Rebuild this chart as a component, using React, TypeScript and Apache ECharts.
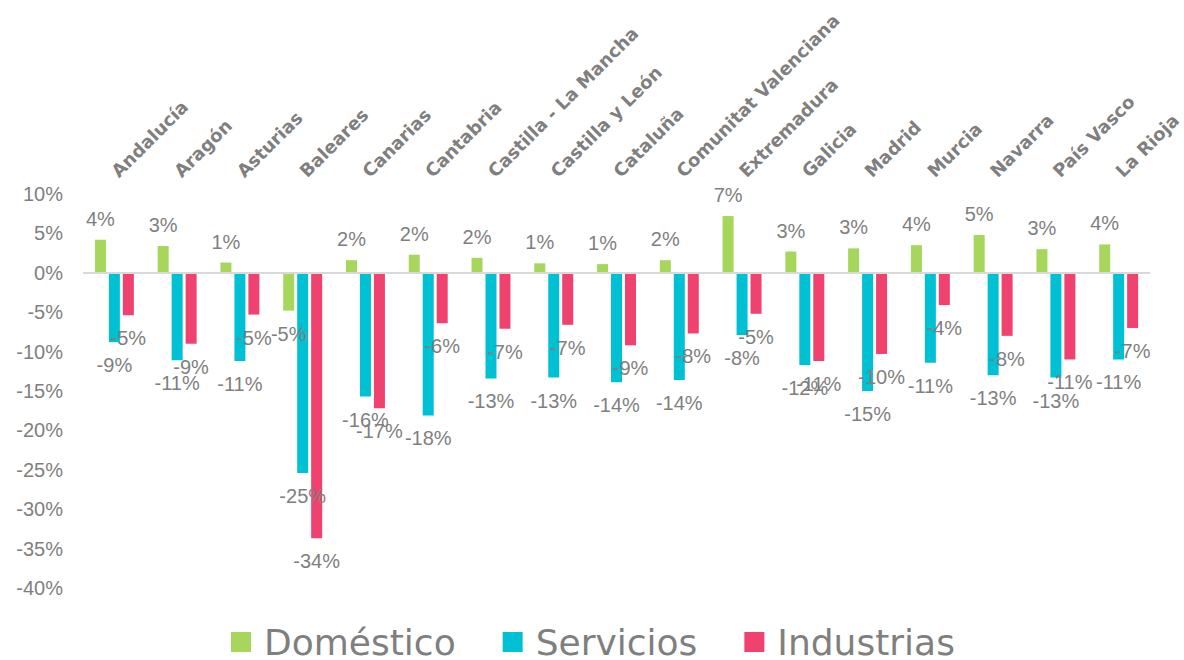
import React, { useEffect, useRef } from "react";
import * as echarts from "echarts";

const categories = [
  "Andalucía", "Aragón", "Asturias", "Baleares", "Canarias", "Cantabria",
  "Castilla - La Mancha", "Castilla y León", "Cataluña", "Comunitat Valenciana",
  "Extremadura", "Galicia", "Madrid", "Murcia", "Navarra", "País Vasco", "La Rioja",
];

const domestico = [4.2, 3.4, 1.3, -4.8, 1.6, 2.3, 1.9, 1.2, 1.1, 1.6, 7.2, 2.7, 3.1, 3.5, 4.8, 3.0, 3.6];
const servicios = [-8.8, -11.1, -11.2, -25.4, -15.7, -18.1, -13.4, -13.3, -13.9, -13.6, -7.9, -11.7, -15.0, -11.4, -13.0, -13.3, -11.0];
const industrias = [-5.4, -9.0, -5.3, -33.7, -17.2, -6.4, -7.1, -6.6, -9.2, -7.7, -5.2, -11.2, -10.3, -4.1, -8.0, -11.0, -7.0];

const yTicks = { min: -40, max: 10, interval: 5 };

const seriesNames = ["Doméstico", "Servicios", "Industrias"];
const seriesColors = ["#A6D65C", "#00C0D4", "#EF426F"];

const GRAY = "#7f7f7f";

function toItems(values: number[]) {
  return values.map((v) => ({
    value: v,
    label: {
      position: v >= 0 ? "top" : "bottom",
      distance: v >= 0 ? 11 : 13,
    },
  }));
}

export default function App() {
  const ref = useRef<HTMLDivElement>(null);

  useEffect(() => {
    document.body.style.margin = "0";
    if (!ref.current) return;
    const chart = echarts.init(ref.current, undefined, { renderer: "svg" });
    const allValues = [domestico, servicios, industrias];
    const series: any[] = allValues.map((vals, i) => ({
      name: seriesNames[i],
      type: "bar",
      data: toItems(vals),
      barWidth: 11,
      barGap: "27%",
      itemStyle: { color: seriesColors[i] },
      label: {
        show: true,
        formatter: (p: any) => Math.round(p.value) + "%",
        color: GRAY,
        fontSize: 20,
        fontFamily: "Liberation Sans, Arial, sans-serif",
      },
      z: 2,
    }));
    series[0].markLine = {
      silent: true,
      symbol: "none",
      label: { show: false },
      lineStyle: { color: "#d9d9d9", width: 2, type: "solid" },
      data: [{ yAxis: 0 }],
    };

    chart.setOption({
      animation: false,
      backgroundColor: "#ffffff",
      grid: { left: 83, right: 29, top: 194, bottom: 72, containLabel: false },
      legend: {
        left: 226,
        top: 619,
        icon: "rect",
        itemWidth: 20,
        itemHeight: 20,
        itemGap: 47,
        data: seriesNames,
        textStyle: {
          fontSize: 36,
          lineHeight: 36,
          color: GRAY,
          fontFamily: "DejaVu Sans, sans-serif",
          padding: [0, 0, 0, 8],
        },
      },
      xAxis: {
        type: "category",
        position: "top",
        data: categories,
        axisLine: { show: false, onZero: false },
        axisTick: { show: false },
        splitLine: { show: false },
        axisLabel: {
          interval: 0,
          rotate: -45,
          margin: 20,
          fontSize: 18,
          fontWeight: "bold",
          fontFamily: "DejaVu Sans, sans-serif",
          color: GRAY,
        },
      },
      yAxis: {
        type: "value",
        min: yTicks.min,
        max: yTicks.max,
        interval: yTicks.interval,
        axisLine: { show: false },
        axisTick: { show: false },
        splitLine: { show: false },
        axisLabel: {
          formatter: "{value}%",
          fontSize: 20,
          color: GRAY,
          margin: 20,
          fontFamily: "Liberation Sans, Arial, sans-serif",
        },
      },
      series,
    });
    return () => chart.dispose();
  }, []);

  return <div ref={ref} style={{ width: 1184, height: 660 }} />;
}
